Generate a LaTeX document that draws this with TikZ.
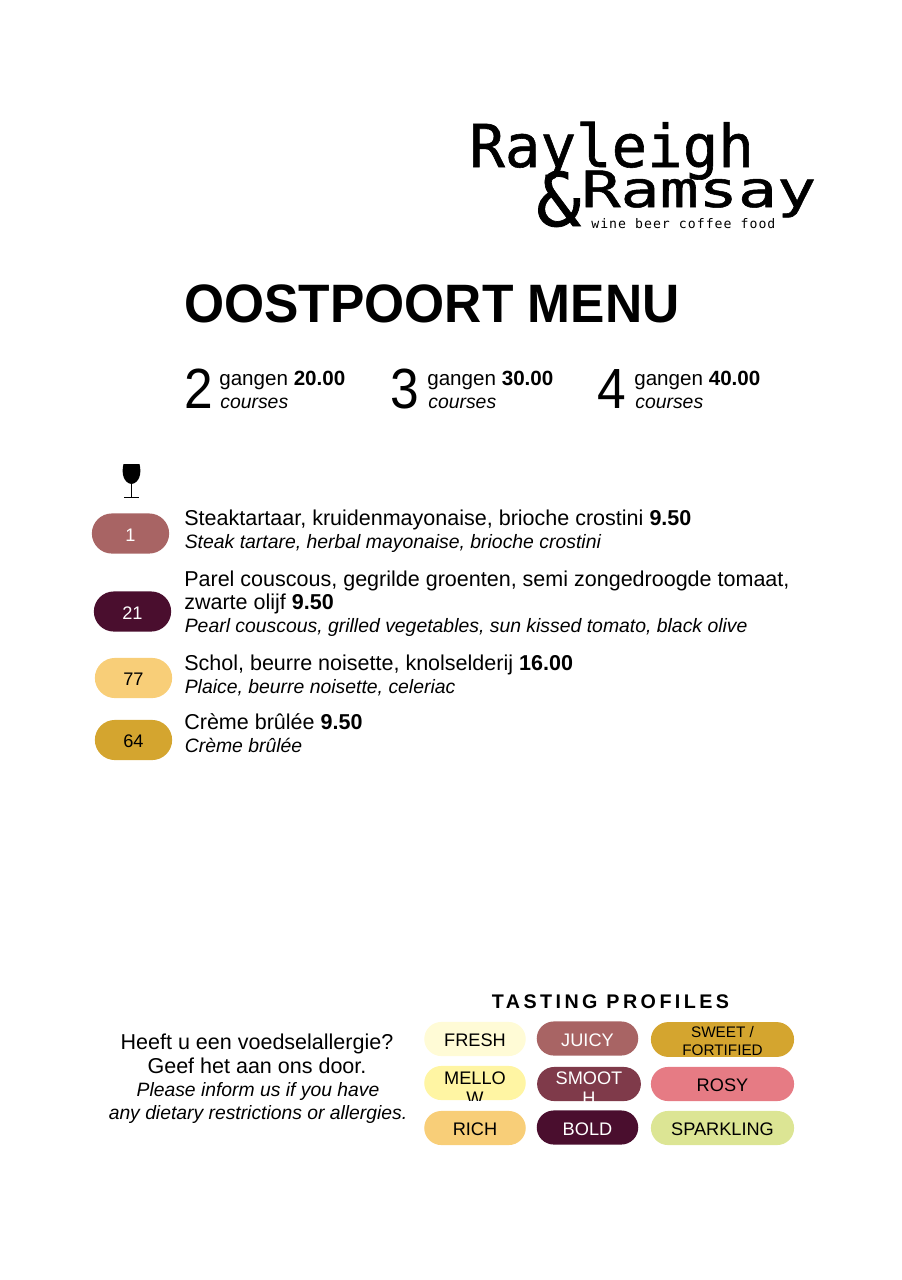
\documentclass[tikz,border=0pt]{standalone}
\usepackage{fontspec}
\setmainfont{Liberation Sans}
\newfontfamily\logofont[FakeBold=1]{DejaVu Sans Mono}
\newfontfamily\taglinefont[LetterSpace=7.8]{DejaVu Sans Mono}
\newfontfamily\spacedfont[LetterSpace=17.5]{Liberation Sans}
\usetikzlibrary{positioning}
\usetikzlibrary{shapes.misc}
\usetikzlibrary{calc}

\definecolor{juicy}{HTML}{A86464}
\definecolor{bold}{HTML}{4A0E2E}
\definecolor{rich}{HTML}{F8CE78}
\definecolor{sweet}{HTML}{D4A52F}
\definecolor{fresh}{HTML}{FFFBD6}
\definecolor{mellow}{HTML}{FFF5A3}
\definecolor{smooth}{HTML}{7F3A4A}
\definecolor{rosy}{HTML}{E67B84}
\definecolor{sparkling}{HTML}{DCE594}

\tikzset{
  pill/.style={rounded rectangle, inner sep=0pt, text height=10.25pt, text depth=0pt, font=\fontsize{12}{14}\selectfont},
  line/.style={anchor=base west, inner sep=0pt, font=\fontsize{14.2}{16}\selectfont},
  trans/.style={anchor=base west, inner sep=0pt, font=\fontsize{12.8}{15}\selectfont\itshape},
  digit/.style={anchor=base west, inner sep=0pt, yscale=1.1, font=\fontsize{34}{40}\selectfont},
  note/.style={anchor=base, inner sep=0pt},
}

\begin{document}
\begin{tikzpicture}[x=0.66pt,y=-0.66pt]
    \useasboundingbox (0,0) rectangle (902,1280);

    % Logo
    \node[anchor=base west, inner sep=0pt, font=\fontsize{39}{40}\logofont] (rayleigh) at (469,167) {Rayleigh};
    \node[anchor=base west, inner sep=0pt, font=\fontsize{49}{50}\logofont] (amp) at (536,226) {\&};
    \node[anchor=base west, inner sep=0pt, xscale=1.3, font=\fontsize{33}{40}\logofont] (ramsay) at (581,207) {Ramsay};
    \node[anchor=base west, inner sep=0pt, font=\fontsize{8.7}{10}\taglinefont] (tagline) at (591,228) {wine beer coffee food};

    % Title and prices
    \node[anchor=base west, inner sep=0pt, yscale=1.05, font=\fontsize{34}{40}\selectfont\bfseries] (title) at (184,322) {OOSTPOORT MENU};
    \foreach \name/\x/\tx/\num/\price in {two/184/219/2/20.00, three/390/427/3/30.00, four/597/634/4/40.00}
    {
        \node[digit] (\name) at (\x,408) {\num};
        \node[line, font=\fontsize{13.6}{16}\selectfont] (\name price) at (\tx,385) {gangen \textbf{\price}};
        \node[trans] (\name course) at (\tx+1,408) {courses};
    }

    % Wine glass
    \fill (123.5,464) -- (139.5,464) .. controls (142,474) and (139,483) .. (131.5,484)
        .. controls (124,483) and (121,474) .. (123.5,464) -- cycle;
    \draw[line width=1pt] (131.5,483) -- (131.5,497);
    \draw[line width=1pt] (124,497.5) -- (139,497.5);

    % Dishes with their wine numbers
    \foreach \name/\x/\y/\col/\tcol/\num in {one/130.5/533.5/juicy/white/1, twentyone/132.5/611.5/bold/white/21,
        seventyseven/133.5/678/rich/black/77, sixtyfour/133.5/740/sweet/black/64}
        \node[pill, fill=\col, text=\tcol, minimum width=51pt, minimum height=26.5pt] (wine\name) at (\x,\y) {\num};

    \node[line] (dishA) at (184,525) {Steaktartaar, kruidenmayonaise, brioche crostini \textbf{9.50}};
    \node[trans] at (184.5,548) {Steak tartare, herbal mayonaise, brioche crostini};
    \node[line] (dishB) at (184,586) {Parel couscous, gegrilde groenten, semi zongedroogde tomaat,};
    \node[line] at (184,609) {zwarte olijf \textbf{9.50}};
    \node[trans] at (184.5,632) {Pearl couscous, grilled vegetables, sun kissed tomato, black olive};
    \node[line] (dishC) at (184,670) {Schol, beurre noisette, knolselderij \textbf{16.00}};
    \node[trans] at (184.5,693) {Plaice, beurre noisette, celeriac};
    \node[line] (dishD) at (184,729) {Crème brûlée \textbf{9.50}};
    \node[trans] at (184.5,752) {Crème brûlée};

    % Allergy note
    \node[note, font=\fontsize{14.2}{16}\selectfont] (allergyA) at (257,1049) {Heeft u een voedselallergie?};
    \node[note, font=\fontsize{14.2}{16}\selectfont] (allergyB) at (257,1073) {Geef het aan ons door.};
    \node[note, font=\fontsize{12.75}{15}\selectfont\itshape] (allergyC) at (258,1096) {Please inform us if you have};
    \node[note, font=\fontsize{12.75}{15}\selectfont\itshape] (allergyD) at (258,1119) {any dietary restrictions or allergies.};

    % Tasting profiles
    \node[note, font=\fontsize{13}{16}\spacedfont\bfseries] (profiles) at (610.5,1008) {TASTING PROFILES};

    \foreach \name/\x/\y/\w/\col/\tcol/\txt in {fr/475/1039/67/fresh/black/FRESH, ju/587.5/1038.5/67/juicy/white/JUICY,
        ro/722.5/1084/94.5/rosy/black/ROSY, ri/475/1128/67/rich/black/RICH, bo/587.5/1127.5/67/bold/white/BOLD,
        sp/722.5/1128/94.5/sparkling/black/SPARKLING}
        \node[pill, fill=\col, text=\tcol, minimum width=\w pt, minimum height=22.5pt] (\name) at (\x,\y) {\txt};

    \node[pill, fill=sweet, minimum width=94.5pt, minimum height=23pt,
        path picture={\node[align=center, inner sep=0pt, font=\fontsize{10.1}{11.7}\selectfont, anchor=base]
            at ($(path picture bounding box.center)+(0,15.5)$) {SWEET /\\FORTIFIED};}] (sw) at (722.5,1039.5) {};

    % Text too long for its pill, cut off at the edge
    \node[pill, fill=mellow, minimum width=67pt, minimum height=22.5pt,
        path picture={\node[align=center, inner sep=0pt, font=\fontsize{12}{13.5}\selectfont, anchor=base]
            at ($(path picture bounding box.center)+(0,21.5)$) {MELLO\\W};}] (me) at (475,1083) {};
    \node[pill, fill=smooth, minimum width=68.5pt, minimum height=22.5pt,
        path picture={\node[align=center, inner sep=0pt, text=white, font=\fontsize{12}{13.5}\selectfont, anchor=base]
            at ($(path picture bounding box.center)+(0,20.5)$) {SMOOT\\H};}] (sm) at (589,1084) {};
\end{tikzpicture}
\end{document}
